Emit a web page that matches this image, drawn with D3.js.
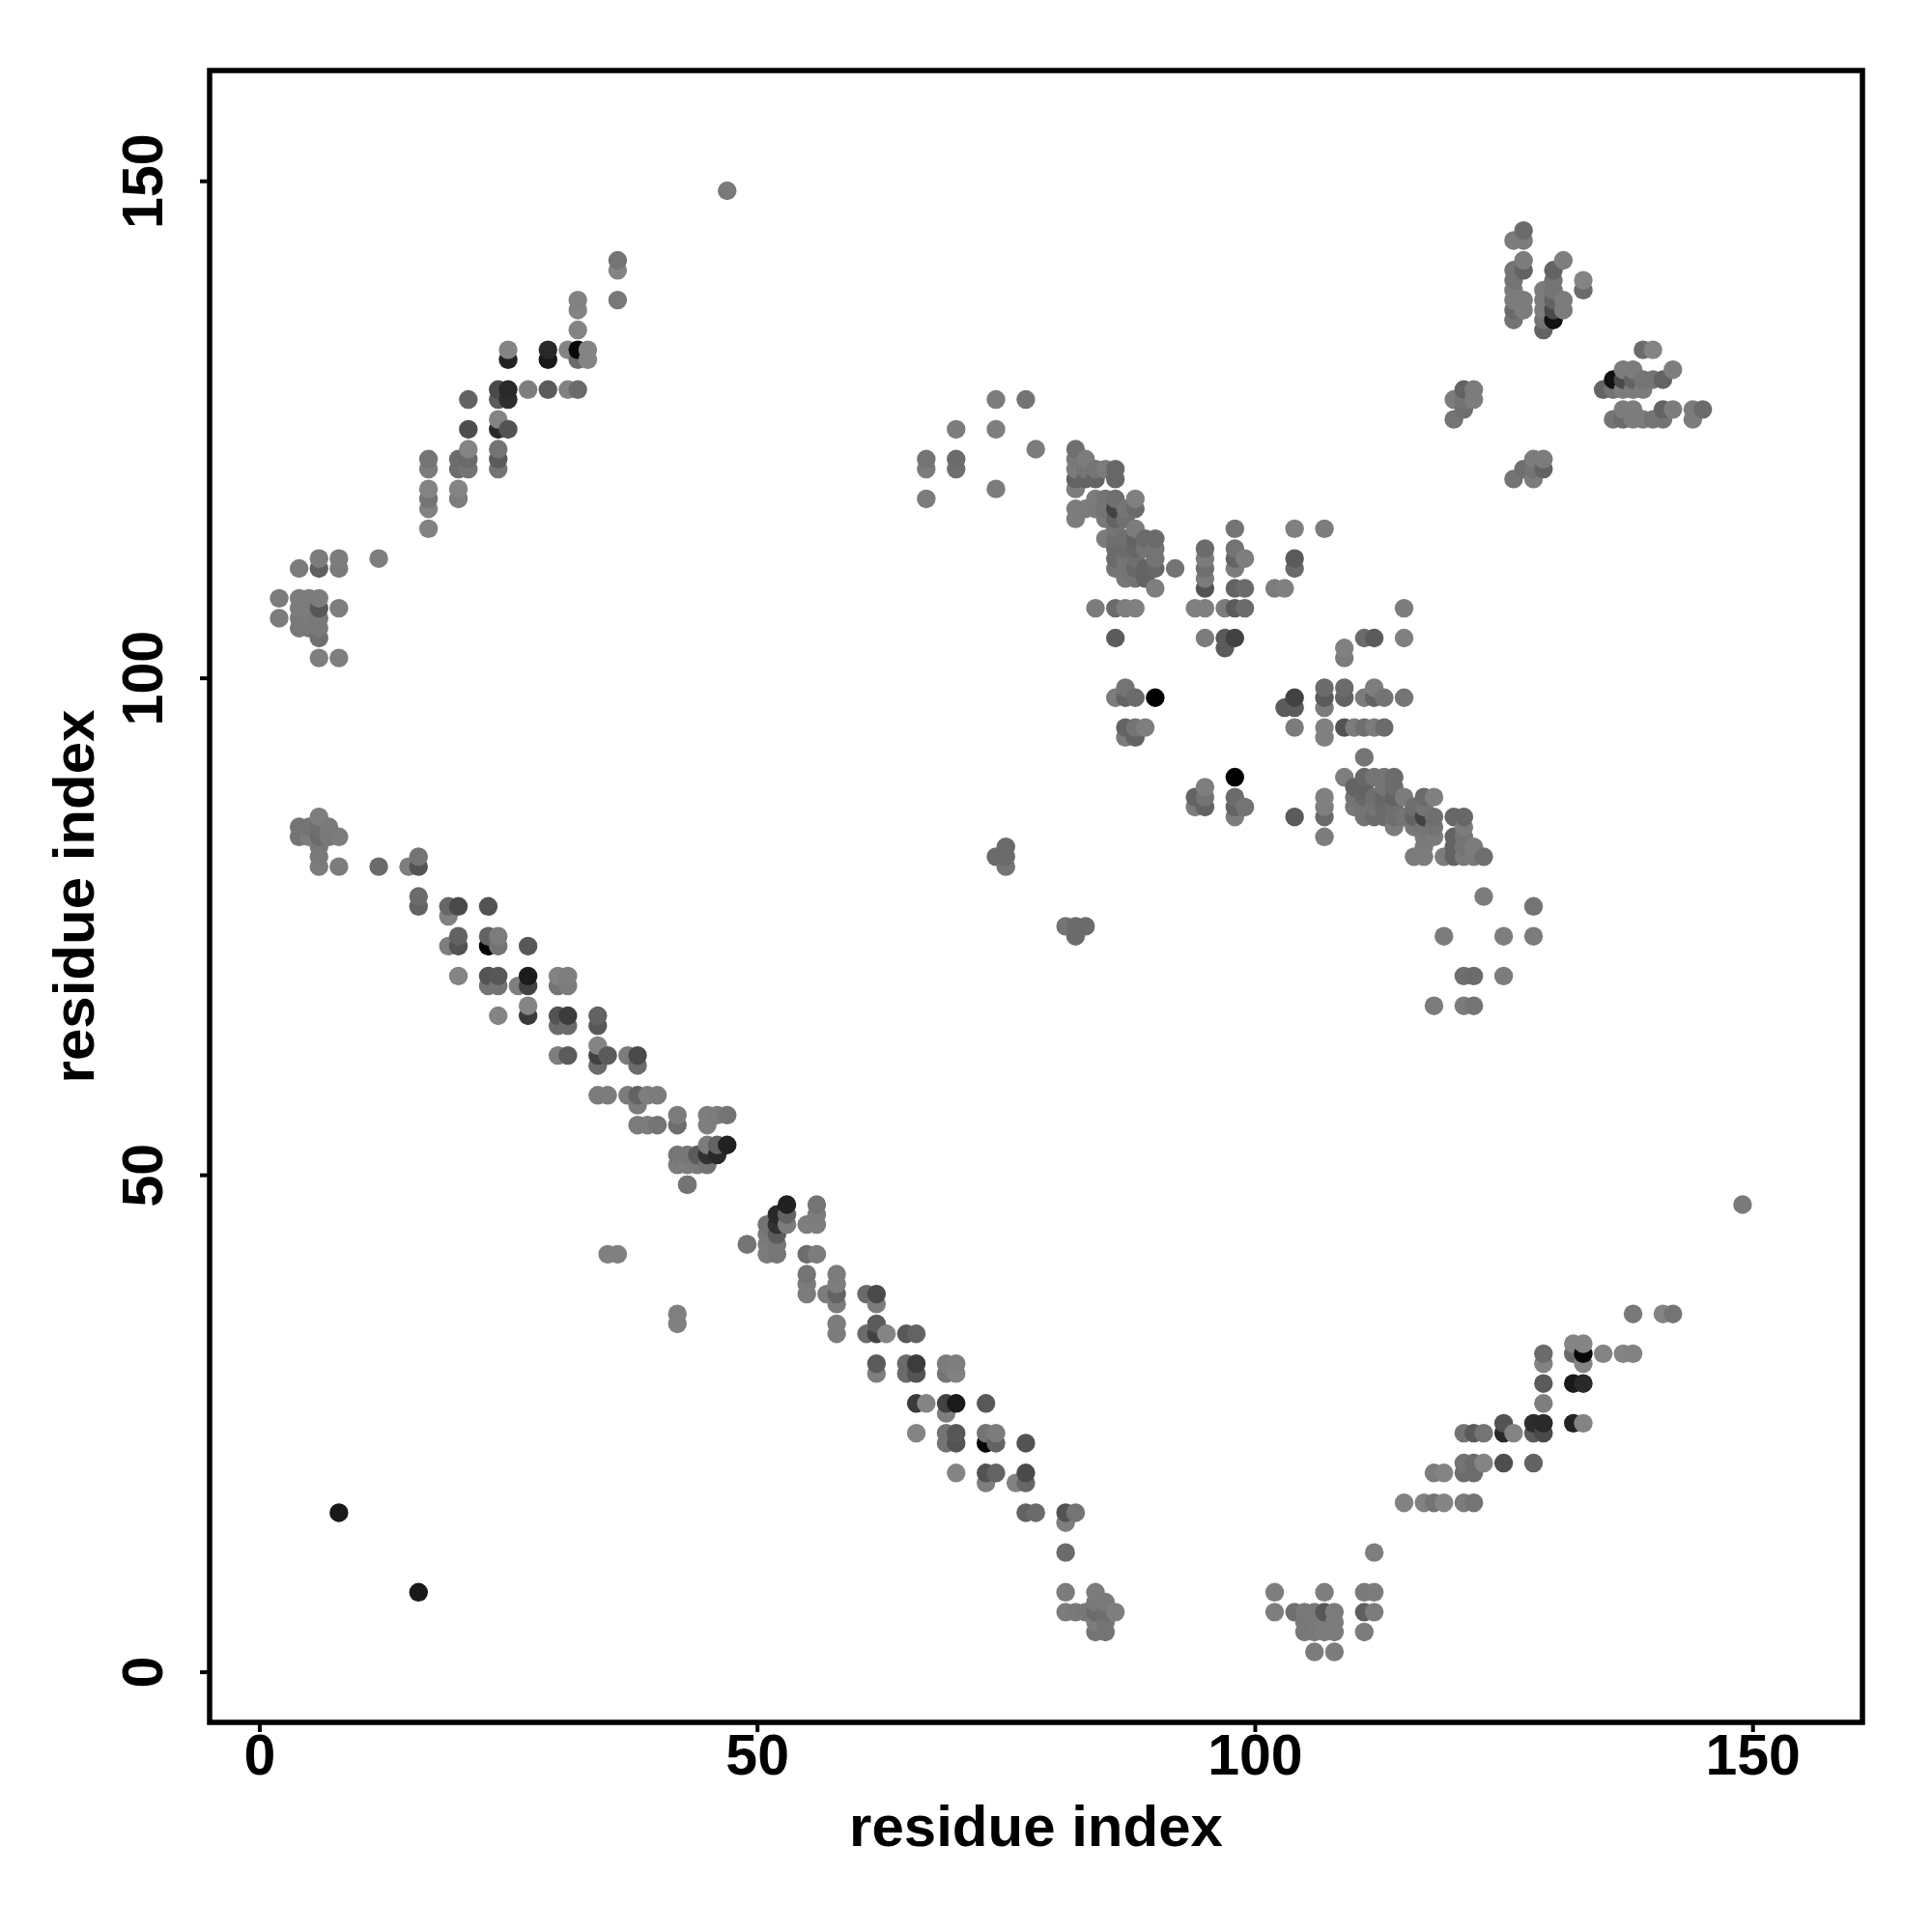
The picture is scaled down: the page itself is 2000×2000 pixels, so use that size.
<!DOCTYPE html>
<html>
<head>
<meta charset="utf-8">
<script src="https://cdnjs.cloudflare.com/ajax/libs/d3/7.8.5/d3.min.js"></script>
<style>html,body{margin:0;padding:0;background:#fff}svg{display:block}</style>
</head>
<body>
<svg id="chart" width="2000" height="2000"></svg>
<script>
const axisTicks = [0, 50, 100, 150];
const xAxisTitle = "residue index";
const yAxisTitle = "residue index";
// contacts between residue i and residue j (i < j) with their grey shade 0..128; the map is symmetric
const contactsNTerm = [
[2,106,120],[2,108,120],[4,84,112],[4,85,112],[4,105,116],[4,106,116],[4,107,120],[4,108,120],[4,111,120],
[5,84,120],[5,85,112],[5,105,116],[5,106,118],[5,107,120],[5,108,120],
[6,81,120],[6,82,118],[6,83,116],[6,84,104],[6,85,108],[6,86,122],[6,102,122],[6,104,108],[6,105,116],[6,106,116],[6,107,84],[6,108,120],[6,111,92],[6,112,120],
[7,84,116],[7,85,118],[8,16,24],[8,81,120],[8,84,120],[8,102,122],[8,107,122],[8,111,118],[8,112,120],
[12,81,104],[12,112,122],[15,81,122],[16,77,96],[16,78,104],[16,81,80],[16,82,112],
[17,115,126],[17,117,126],[17,118,112],[17,119,128],[17,121,120],[17,122,112],
[19,73,122],[19,76,126],[19,77,100],[20,70,128],[20,73,80],[20,74,96],[20,77,72],[20,118,120],[20,119,128],[20,121,106],[20,122,106],
[21,121,112],[21,122,104],[21,123,128],[21,125,76],[21,128,96],
[23,69,112],[23,70,80],[23,73,4],[23,74,96],[23,77,80],
[24,66,128],[24,69,112],[24,70,84],[24,73,112],[24,74,120],[24,121,112],[24,122,88],[24,123,112],[24,125,40],[24,126,128],[24,128,88],[24,129,72],
[25,125,80],[25,128,44],[25,129,40],[25,132,34],[25,133,128],[26,69,122],
[27,66,56],[27,67,128],[27,69,64],[27,70,26],[27,73,85],[27,129,122],
[29,129,88],[29,132,24],[29,133,40],
[30,62,122],[30,65,104],[30,66,80],[30,69,112],[30,70,126],
[31,62,88],[31,65,104],[31,66,58],[31,69,120],[31,70,122],[31,129,126],[31,133,128],
[32,129,104],[32,132,104],[32,133,8],[32,135,128],[32,137,128],[32,138,126],[33,132,128],[33,133,128],
[34,58,120],[34,61,104],[34,62,64],[34,63,128],[34,65,85],[34,66,96],
[35,42,124],[35,58,120],[35,62,88],[36,42,124],[36,138,116],[36,141,128],[36,142,112],
[37,58,120],[37,62,120],[38,55,120],[38,57,120],[38,58,96],[38,61,104],[38,62,72],
[39,55,120],[39,58,122],[40,55,112],[40,58,120],
[42,51,120],[42,52,114],[42,55,106],[42,56,120],[43,49,112],[43,51,120],[43,52,114],[44,51,118],[44,52,88],
[45,51,112],[45,52,48],[45,53,120],[45,55,122],[45,56,122],[46,52,40],[46,53,96],[46,56,120],
[47,53,32],[47,56,112],[47,149,118],
[49,43,112]
];
const contactsMiddle = [
[67,118,120],[67,121,120],[67,122,112],[70,121,108],[70,122,104],[70,125,120],
[74,82,104],[74,119,120],[74,125,122],[74,128,120],[75,81,112],[75,82,104],[75,83,104],[77,128,112],[78,123,120],
[82,116,120],[82,117,120],[82,119,120],[82,120,96],[82,121,118],[82,122,118],[82,123,108],
[83,117,120],[83,120,96],[83,121,112],[83,122,120],
[84,107,120],[84,117,118],[84,118,120],[84,120,96],[84,121,112],
[85,114,120],[85,116,116],[85,117,112],[85,118,112],[85,121,120],
[86,98,120],[86,104,88],[86,107,104],[86,111,112],[86,112,104],[86,113,104],[86,114,108],[86,115,112],[86,116,96],[86,117,64],[86,118,108],[86,120,100],[86,121,100],
[87,94,120],[87,95,96],[87,98,96],[87,99,112],[87,107,122],[87,110,116],[87,111,112],[87,112,112],[87,113,104],[87,114,108],[87,116,108],[87,117,112],
[88,94,96],[88,95,112],[88,98,104],[88,107,124],[88,110,112],[88,111,100],[88,112,108],[88,113,100],[88,114,96],[88,115,120],[88,117,104],[88,118,124],
[89,95,122],[89,110,96],[89,111,96],[89,113,112],[89,114,104],
[90,98,0],[90,109,122],[90,111,100],[90,112,112],[90,113,112],[90,114,104],[92,111,112],
[94,107,124],[95,104,120],[95,107,124],[95,109,80],[95,110,120],[95,111,108],[95,112,120],[95,113,104],
[97,103,88],[97,104,88],[97,107,120],
[98,104,64],[98,107,88],[98,109,96],[98,111,120],[98,112,96],[98,113,112],[98,115,112],
[99,107,104],[99,109,104],[99,112,122],[102,109,120],[103,109,124],
[104,111,104],[104,112,88],[104,115,124],[107,115,120]
];
const contactsCTerm = [
[120,126,112],[120,128,120],[121,127,108],[121,128,112],[121,129,96],[122,128,120],[122,129,120],
[126,136,112],[126,137,104],[126,138,120],[126,139,120],[126,140,112],[126,141,112],[126,144,120],
[127,137,120],[127,138,120],[127,141,96],[127,142,120],[127,144,120],[127,145,104],
[129,135,96],[129,136,112],[129,137,120],[129,138,120],[129,139,120],
[130,136,16],[130,137,72],[130,138,96],[130,139,112],[130,140,112],[130,141,96],
[131,137,120],[131,138,120],[131,142,122],[133,139,104],[133,140,128]
];

const allContacts = contactsNTerm.concat(contactsMiddle, contactsCTerm);
const marks = [];
allContacts.forEach(([i, j, s]) => {
  marks.push({x: i, y: j, s});
  marks.push({x: j, y: i, s});
});
marks.sort((a, b) => d3.ascending(a.x, b.x) || d3.ascending(a.y, b.y));

const frame = {left: 217, right: 1928, top: 73, bottom: 1783};
const x = d3.scaleLinear().domain([0, 150]).range([268.4, 1814.2]);
const y = d3.scaleLinear().domain([0, 150]).range([1730.6, 187.2]);
const shade = d3.scaleLinear().domain([0, 128]).range(["#000000", "#848484"]);

const svg = d3.select("#chart");
const font = "'Liberation Sans', Arial, sans-serif";

svg.append("g").selectAll("circle").data(marks).join("circle")
  .attr("cx", d => x(d.x))
  .attr("cy", d => y(d.y))
  .attr("r", 9.7)
  .attr("fill", d => shade(d.s));

svg.append("rect")
  .attr("x", frame.left).attr("y", frame.top)
  .attr("width", frame.right - frame.left).attr("height", frame.bottom - frame.top)
  .attr("fill", "none").attr("stroke", "#000").attr("stroke-width", 5.5);

const xAxis = svg.append("g")
  .attr("transform", `translate(0,${frame.bottom})`)
  .call(d3.axisBottom(x).tickValues(axisTicks).tickSize(10).tickPadding(15));
const yAxis = svg.append("g")
  .attr("transform", `translate(${frame.left},0)`)
  .call(d3.axisLeft(y).tickValues(axisTicks).tickSize(10).tickPadding(15));
[xAxis, yAxis].forEach(g => {
  g.select(".domain").remove();
  g.selectAll(".tick line").attr("stroke", "#000").attr("stroke-width", 4);
  g.selectAll(".tick text").attr("font-family", font).attr("font-weight", "bold")
    .attr("font-size", 59).attr("fill", "#000");
});
xAxis.selectAll(".tick text").attr("dy", null).attr("y", null)
  .attr("transform", null).attr("text-anchor", "middle").attr("y", 54);
yAxis.selectAll(".tick text")
  .attr("x", null).attr("dy", null).attr("text-anchor", "middle")
  .attr("transform", "translate(-49,0) rotate(-90)");

svg.append("text").text(xAxisTitle)
  .attr("x", (frame.left + frame.right) / 2).attr("y", 1911)
  .attr("text-anchor", "middle").attr("font-family", font)
  .attr("font-weight", "bold").attr("font-size", 60).attr("fill", "#000");
svg.append("text").text(yAxisTitle)
  .attr("text-anchor", "middle").attr("font-family", font)
  .attr("font-weight", "bold").attr("font-size", 60).attr("fill", "#000")
  .attr("transform", `translate(97,${(frame.top + frame.bottom) / 2}) rotate(-90)`);
</script>
</body>
</html>
